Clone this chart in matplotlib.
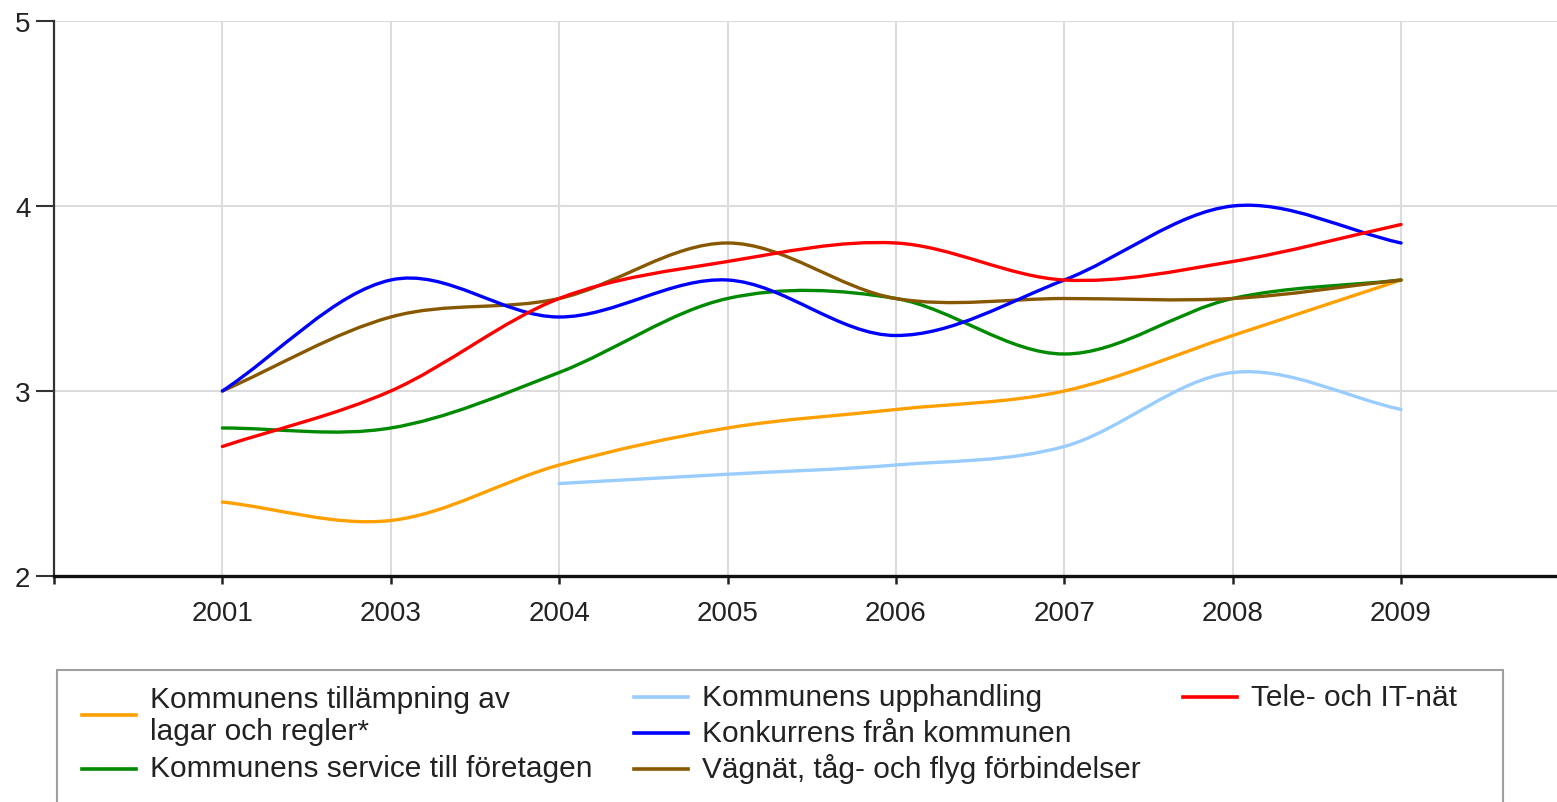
import numpy as np
import matplotlib
matplotlib.use("Agg")
import matplotlib.pyplot as plt
from matplotlib.path import Path
from matplotlib.patches import PathPatch, Rectangle
from matplotlib.lines import Line2D

plt.rcParams['font.family'] = ['Liberation Sans', 'DejaVu Sans']

years = ["2001", "2003", "2004", "2005", "2006", "2007", "2008", "2009"]

tillampning = [2.4, 2.3, 2.6, 2.8, 2.9, 3.0, 3.3, 3.6]
upphandling = [None, None, 2.5, 2.55, 2.6, 2.7, 3.1, 2.9]
tele_it = [2.7, 3.0, 3.5, 3.7, 3.8, 3.6, 3.7, 3.9]
konkurrens = [3.0, 3.6, 3.4, 3.6, 3.3, 3.6, 4.0, 3.8]
service = [2.8, 2.8, 3.1, 3.5, 3.5, 3.2, 3.5, 3.6]
vagnat = [3.0, 3.4, 3.5, 3.8, 3.5, 3.5, 3.5, 3.6]

labels = {
    "tillampning": "Kommunens tillämpning av\nlagar och regler*",
    "service": "Kommunens service till företagen",
    "upphandling": "Kommunens upphandling",
    "konkurrens": "Konkurrens från kommunen",
    "vagnat": "Vägnät, tåg- och flyg förbindelser",
    "tele_it": "Tele- och IT-nät",
}
colors = {
    "tillampning": "#ffa000",
    "service": "#008a00",
    "upphandling": "#99ccff",
    "konkurrens": "#0000ff",
    "vagnat": "#885800",
    "tele_it": "#ff0000",
}

W, H = 1557, 803
fig = plt.figure(figsize=(W / 100, H / 100), dpi=100)

x_left, x_right, y_bot, y_top = 54, 1557, 577, 22
ax = fig.add_axes([x_left / W, 1 - y_bot / H, (x_right - x_left) / W, (y_bot - y_top) / H])

x0_px, step_px = 222, (1401 - 222) / 7
ax.set_xlim((x_left - x0_px) / step_px, (x_right - x0_px) / step_px)
ax.set_ylim(2, 5)


def smooth_path(xs, ys):
    pts = np.array(list(zip(xs, ys)), dtype=float)
    n = len(pts)
    tang = np.zeros_like(pts)
    for i in range(n):
        if i == 0:
            tang[i] = pts[1] - pts[0]
        elif i == n - 1:
            tang[i] = pts[-1] - pts[-2]
        else:
            tang[i] = (pts[i + 1] - pts[i - 1]) / 2
    verts = [pts[0]]
    codes = [Path.MOVETO]
    for i in range(n - 1):
        verts += [pts[i] + tang[i] / 3, pts[i + 1] - tang[i + 1] / 3, pts[i + 1]]
        codes += [Path.CURVE4] * 3
    return Path(verts, codes)


order = ["tillampning", "upphandling", "service", "vagnat", "konkurrens", "tele_it"]
series = {
    "tillampning": tillampning,
    "upphandling": upphandling,
    "tele_it": tele_it,
    "konkurrens": konkurrens,
    "service": service,
    "vagnat": vagnat,
}
for key in order:
    vals = series[key]
    xs = [i for i, v in enumerate(vals) if v is not None]
    ys = [v for v in vals if v is not None]
    patch = PathPatch(smooth_path(xs, ys), facecolor="none", edgecolor=colors[key],
                      lw=2.4, capstyle="round", joinstyle="round", zorder=3)
    ax.add_patch(patch)

# grid
for i in range(len(years)):
    ax.axvline(i, color="#dcdcdc", lw=1.5, zorder=1)
for yv in [3, 4, 5]:
    ax.axhline(yv, color="#dcdcdc", lw=1.5, zorder=1)

for s in ["top", "right"]:
    ax.spines[s].set_visible(False)
ax.spines["left"].set_color("#333333")
ax.spines["left"].set_linewidth(1.6)
ax.spines["bottom"].set_color("#111111")
ax.spines["bottom"].set_linewidth(2.4)
ax.spines["bottom"].set_zorder(4)

ax.set_yticks([2, 3, 4, 5])
ax.set_yticklabels(["2", "3", "4", "5"])
ax.tick_params(axis="y", length=13, width=1.5, color="#333333", pad=4,
               labelsize=20, labelcolor="#222222", direction="out")
ax.set_xticks([-1] + list(range(len(years))))
ax.set_xticklabels([""] + years)
ax.tick_params(axis="x", length=6, width=1.8, color="#222222", pad=11,
               labelsize=20, labelcolor="#222222", direction="out")

# legend (manual layout)
fig.add_artist(Rectangle((57 / W, 1 - 830 / H), (1503 - 57) / W, (830 - 671) / H,
                         transform=fig.transFigure, facecolor="white",
                         edgecolor="#a0a0a0", lw=1.5))

leg_fs = 21.5
def leg_item(key, hx, hy, ty):
    fig.add_artist(Line2D([hx / W, (hx + 54) / W], [1 - hy / H, 1 - hy / H],
                          transform=fig.transFigure, color=colors[key], lw=2.6))
    fig.text((hx + 68) / W, 1 - ty / H, labels[key], fontsize=leg_fs, color="#222222",
             va="center", ha="left", linespacing=1.2)

leg_item("tillampning", 82, 716, 716)
leg_item("service", 82, 770, 769)
leg_item("upphandling", 634, 698, 698)
leg_item("konkurrens", 634, 734, 734)
leg_item("vagnat", 634, 770, 769)
leg_item("tele_it", 1183, 698, 698)

fig.savefig("out.png", dpi=100)
